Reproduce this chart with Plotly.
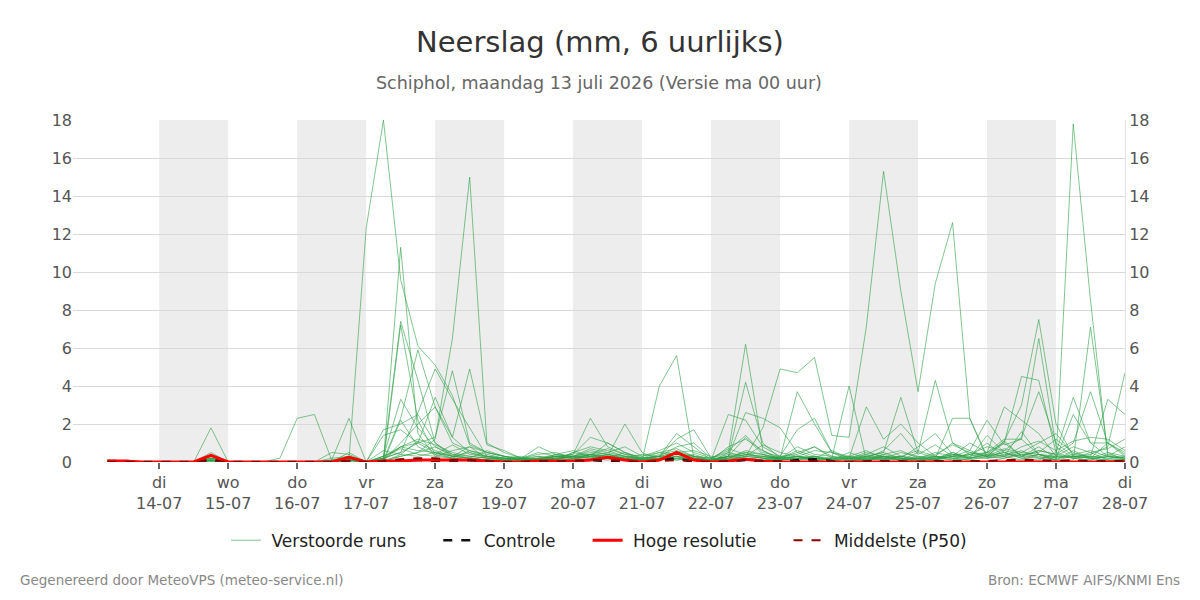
import plotly.graph_objects as go
import pandas as pd

# 6-hourly timestamps: 13-07-2026 06:00 .. 28-07-2026 00:00 (60 steps)
times = pd.date_range("2026-07-13 06:00", "2026-07-28 00:00", freq="6h")

# Each list: [13-07: 06,12,18] then per day 14..27 [00,06,12,18], then 28-07 00
m01 = [0.1,0,0, 0,0,0,0.2, 0,0,0,0, 0,0,0,0.1, 12.3,18.0,9.6,6.1, 5.1,3.5,0.9,0.5, 0.3,0.1,0,0.2, 0.1,0.4,0.2,0.1, 0,0.2,0.5,0.3, 0,0.3,1.3,0.4, 0.2,0.3,0.1,0, 0,0.3,0.1,0.2, 0,0.1,0.4,0.2, 0.5,1.0,0.3,0.2, 0.1,0.6,0.2,0.3, 0.1]
m02 = [0,0,0, 0,0,0,0.1, 0,0,0,0, 0,0,0,0.3, 0,0.1,11.3,1.5, 0.3,0.2,0.1,0.1, 0,0.1,0.2,0.3, 0.4,2.3,0.8,0.4, 0.1,0.2,0.3,0.1, 0,0.5,6.2,0.6, 0.1,0.2,0.1,0, 0,0.1,0.3,0.1, 0.2,0.1,0.3,0.6, 0.3,0.5,0.2,0.1, 0.5,3.4,1.0,0.3, 0.2]
m03 = [0,0,0, 0,0,0,0, 0,0,0,0, 0,0,0.1,0.2, 0,0.2,7.4,4.3, 1.0,0.3,0.2,0.1, 0.1,0,0.1,0.2, 0.2,0.3,0.3,2.0, 0.5,0.1,0.2,0.1, 0,0.3,4.2,1.0, 0.2,0.1,0.3,0.1, 0,0.2,0.1,0.3, 0.1,0.2,0.1,0.5, 0.3,1.1,3.0,7.5, 2.0,0.3,0.2,0.1, 0.1]
m04 = [0,0.05,0, 0,0,0,0.1, 0,0,0,0, 0,0,0,0.2, 0,0,7.2,2.2, 0.4,0.2,0.1,0.3, 0.2,0.1,0.1,0.3, 0.4,1.3,1.0,0.5, 0.2,0.3,0.2,0.1, 0.1,2.5,2.2,0.8, 0.3,0.2,0.1,0.2, 0.1,0.3,0.5,0.2, 0,0.2,0.4,0.3, 0.5,1.2,1.2,6.5, 0.8,0.2,0.5,0.1, 0]
m05 = [0,0,0, 0,0,0,0.2, 0,0,0,0, 0,0,0.1,0.3, 0,0.3,3.3,1.8, 0.8,0.3,0.2,0.1, 0,0.1,0.2,0.1, 0.3,0.5,0.4,0.2, 0.1,0.3,1.5,0.8, 0.1,0.3,2.6,2.3, 1.8,0.5,0.2,0.1, 0.2,0.1,0.3,0.1, 0.3,0.2,0.5,0.2, 0.3,1.0,4.5,4.3, 0.5,0.2,0.1,0.3, 0.2]
m06 = [0,0,0, 0,0,0,0.1, 0,0,0,0, 0,0,0,0.1, 0,0.1,2.3,5.9, 2.9,1.0,0.6,0.3, 0.2,0.1,0,0.2, 0.1,0.3,1.0,0.5, 0.1,4.0,5.6,0.2, 0,0.1,0.3,0.2, 0.1,0.3,0.2,0.1, 0.2,0.1,0.2,0.3, 0.1,0.3,0.2,0.1, 0,0.2,0.4,0.3, 0.1,17.8,8.5,0.3, 0.2]
m07 = [0,0,0, 0,0,0,0, 0,0,0,0, 0,0,0,0.2, 0,0.2,0.5,2.6, 4.9,3.3,1.8,0.3, 0.2,0.1,0.1,0.2, 0.3,0.2,0.4,0.1, 0.2,0.3,1.2,1.7, 0.2,0.1,0.3,1.8, 4.9,4.7,5.5,1.4, 1.3,7.1,15.3,9.0, 3.7,9.4,12.6,2.3, 0.3,0.5,0.2,0.4, 0.1,0.3,0.2,0.5, 0.3]
m08 = [0,0,0, 0,0,0,0.1, 0,0,0,0, 0,0,0,0.1, 0,0,0.3,0.5, 1.2,6.5,15.0,1.0, 0.5,0.2,0.1,0.3, 0.2,0.4,0.2,0.1, 0.2,0.1,0.3,0.2, 0.1,0.4,0.3,0.2, 0.2,3.7,2.0,0.5, 0.1,0.2,0.3,0.1, 0.2,0.1,0.3,0.2, 0.2,0.3,0.1,0.4, 0.1,0.1,7.1,0.5, 0.1]
m09 = [0,0,0, 0,0,0,0, 0,0,0,0, 0,0,0,0.1, 0,0.1,0.8,1.0, 1.3,4.8,1.0,0.5, 0.3,0.2,0.8,0.4, 0.3,0.2,0.1,0.3, 0.1,0.2,0.4,0.3, 0.1,0.3,0.5,0.2, 0.3,1.7,2.3,0.5, 0.2,0.1,0.3,0.2, 0.1,0.3,0.2,0.4, 0.2,0.4,0.3,0.6, 0.4,1.0,3.7,1.0, 0.3]
m10 = [0,0,0, 0,0,0,0, 0,0,0,0, 0,0,0,0.1, 0,0.1,1.0,2.0, 2.9,1.3,4.9,0.9, 0.6,0.2,0.1,0.3, 0.2,0.3,0.5,0.3, 0.1,0.2,0.3,0.1, 0.1,0.2,0.4,0.3, 0.1,0.2,0.3,0.2, 4.0,0.1,0.2,0.3, 0.2,0.3,0.1,0.2, 0.4,0.3,0.6,0.2, 0.3,0.3,0.3,3.3, 2.5]
m11 = [0,0,0, 0,0,0,0.1, 0,0,0,0, 0,0,0,0, 0,0.2,0.5,1.0, 3.4,1.3,0.5,0.3, 0.1,0.2,0.3,0.1, 0.5,0.3,0.2,0.1, 0.1,0.3,0.5,0.2, 0.1,0.3,0.2,0.1, 0.2,0.3,0.2,0.2, 0.2,2.9,1.2,2.0, 1.0,0.3,0.2,0.1, 0.3,0.2,0.5,0.4, 0.2,0.3,0.4,0.8, 4.7]
m12 = [0.1,0,0, 0,0,0,0.1, 0,0,0,0.2, 2.3,2.5,0.1,2.3, 0,1.7,2.0,2.5, 1.0,0.4,0.3,0.2, 0.1,0.2,0.1,0.3, 0.2,0.4,0.3,0.2, 0.1,0.2,0.1,0.3, 0.2,0.1,0.4,0.2, 0.1,0.2,0.3,0.1, 0.2,0.3,0.5,3.4, 0.5,0.2,0.3,0.4, 0.5,2.9,2.2,1.5, 0.3,0.2,0.1,0.4, 0.2]
m13 = [0,0,0, 0,0,0,1.8, 0,0,0,0, 0,0,0,0, 0,0.1,0.3,0.5, 0.8,0.4,0.2,0.1, 0.1,0,0.2,0.3, 0.2,0.1,0.3,0.2, 0,0.1,0.2,0.4, 0.1,0.2,0.1,0.3, 0.2,0.1,0.2,0.1, 0,0.3,0.2,0.1, 0.5,4.3,1.0,0.6, 2.2,0.9,1.2,0.4, 0.2,0.4,0.3,0.2, 0.1]
m14 = [0,0,0, 0,0,0,0.5, 0,0,0,0, 0,0,0.5,0.4, 0,0.3,0.8,0.6, 0.5,0.3,0.8,0.2, 0.1,0.2,0.1,0.2, 0.3,0.2,0.4,0.3, 0.2,0.3,0.1,0.2, 0.1,0.3,0.2,0.1, 0.2,0.3,0.1,0.2, 0.3,0.1,0.4,0.2, 0.1,0.2,2.3,2.3, 0.2,0.6,1.3,3.7, 1.0,0.3,0.2,0.1, 0.1]
m15 = [0,0,0, 0,0,0,0.3, 0,0,0,0, 0,0,0.2,0.3, 0,1.4,1.7,1.0, 0.5,0.3,0.2,0.6, 0.3,0.1,0.2,0.1, 0.5,0.8,0.6,0.3, 0.2,0.5,0.7,0.3, 0.1,0.2,0.6,0.4, 0.2,0.5,0.8,0.3, 0.1,0.4,0.2,0.5, 0.3,0.1,0.5,0.2, 0.4,1.1,0.3,0.8, 0.2,2.5,1.0,1.0, 0.5]
m16 = [0,0,0, 0,0,0,0.2, 0,0,0,0, 0,0,0,0.1, 0,0.2,0.8,1.2, 0.9,0.5,0.3,0.2, 0.2,0.1,0.3,0.2, 0.3,0.6,0.4,0.2, 0.1,0.4,0.6,0.3, 0.2,0.6,1.4,0.5, 0.3,0.4,0.8,0.2, 0.3,0.2,0.6,1.5, 0.4,0.9,0.3,1.0, 0.5,0.3,0.8,1.1, 0.6,1.1,1.3,1.2, 0.6]
m17 = [0,0,0, 0,0,0,0.1, 0,0,0,0, 0,0,0,0.5, 0,0,2.2,0.8, 0.4,0.9,0.4,0.3, 0.1,0.2,0.4,0.5, 0.2,0.4,0.7,0.4, 0.3,0.6,1.0,0.5, 0.2,0.5,0.3,0.9, 0.5,0.3,0.2,0.6, 0.2,0.5,0.3,0.2, 0.8,1.5,0.4,0.3, 1.0,0.3,1.6,0.4, 0.3,0.8,0.5,0.7, 1.2]
m18 = [0,0,0, 0,0,0,0.2, 0,0,0,0, 0,0,0,0.2, 0,0.6,0.4,1.1, 0.6,0.3,0.5,0.2, 0.2,0.3,0.1,0.4, 0.6,0.3,0.2,0.5, 0.2,0.3,0.8,1.0, 0.2,0.7,0.4,0.3, 0.2,0.6,0.3,0.1, 0.5,0.2,0.4,0.6, 0.2,0.4,0.9,0.5, 0.3,0.7,0.5,1.0, 1.5,0.4,0.6,0.3, 0.8]
m19 = [0,0,0, 0,0,0,0.1, 0,0,0,0, 0,0,0,0.1, 0,0.3,0.7,0.4, 0.3,0.6,0.8,0.5, 0.3,0.2,0.5,0.3, 0.3,0.7,0.5,0.8, 0.3,0.5,0.4,0.2, 0.1,0.8,1.2,0.6, 0.2,0.8,0.4,0.3, 0.2,0.4,0.8,0.3, 0.6,0.3,1.0,0.4, 0.8,0.6,0.4,0.5, 1.2,0.5,0.2,1.0, 0.4]
m20 = [0,0,0, 0,0,0,0.1, 0,0,0,0, 0,0,0,0.1, 0,0,0.4,0.3, 0.5,0.2,0.6,0.4, 0.2,0.1,0.2,0.4, 0.3,0.4,0.3,0.2, 0.4,0.3,0.5,0.6, 0.3,0.2,0.5,0.4, 0.1,0.3,0.6,0.5, 0.3,0.6,0.2,0.1, 0.2,0.5,0.3,0.2, 1.4,0.5,0.3,0.6, 0.4,0.2,0.3,0.2, 0.3]
members = [m01, m02, m03, m04, m05, m06, m07, m08, m09, m10,
           m11, m12, m13, m14, m15, m16, m17, m18, m19, m20]

controle = [0.05,0.05,0, 0,0,0,0.1, 0,0,0,0, 0,0,0,0.05, 0,0.05,0.1,0.1, 0.05,0.05,0.1,0.05, 0,0,0.05,0, 0.05,0.1,0.05,0, 0,0.1,0.2,0, 0,0.05,0.1,0, 0,0.1,0.15,0.05, 0,0,0.05,0, 0,0.05,0,0, 0,0.05,0,0, 0,0.05,0,0, 0]
hoge_resolutie = [0.05,0.05,0, 0,0,0,0.35, 0,0,0,0, 0,0,0,0.25, 0,0.05,0.05,0.1, 0.1,0.1,0.1,0.05, 0,0,0.05,0.05, 0.05,0.1,0.25,0.1, 0,0.1,0.5,0.1, 0,0.05,0.15,0.05, 0,0,0,0, 0,0,0,0, 0,0,0,0, 0,0,0,0, 0,0,0,0, 0]
p50 = [0,0,0, 0,0,0,0.05, 0,0,0,0, 0,0,0,0.05, 0,0.05,0.15,0.2, 0.2,0.1,0.1,0.05, 0,0,0.05,0.05, 0.05,0.1,0.1,0.05, 0,0.05,0.1,0.05, 0,0.05,0.1,0.05, 0.05,0.05,0.05,0, 0,0.05,0.05,0.05, 0,0.05,0.05,0.05, 0.05,0.1,0.1,0.1, 0.05,0.1,0.05,0.05, 0.05]

series_names = ["Verstoorde runs", "Controle", "Hoge resolutie", "Middelste (P50)"]

tick_dates = pd.date_range("2026-07-14", "2026-07-28", freq="D")
day_names = ["di", "wo", "do", "vr", "za", "zo", "ma", "di", "wo", "do", "vr", "za", "zo", "ma", "di"]
tick_text = [f"{d}<br>{t.strftime('%d-%m')}" for d, t in zip(day_names, tick_dates)]
shaded_days = ["2026-07-14", "2026-07-16", "2026-07-18", "2026-07-20",
               "2026-07-22", "2026-07-24", "2026-07-26"]

FONT = "DejaVu Sans"
NB = "\u00a0"


def legend_label(name, last=False):
    # non-breaking spaces reproduce the wider legend item spacing
    return NB + name + ("" if last else NB * 5)


fig = go.Figure()

member_color = "rgba(45,160,70,0.6)"
for k, m in enumerate(members):
    fig.add_trace(go.Scatter(x=times, y=m, mode="lines",
                             line=dict(color=member_color, width=1),
                             name=legend_label(series_names[0]), legendgroup="ens",
                             showlegend=(k == 0), hoverinfo="skip"))

fig.add_trace(go.Scatter(x=times, y=controle, mode="lines", name=legend_label(series_names[1]),
                         line=dict(color="#111111", width=2.5, dash="dash")))
fig.add_trace(go.Scatter(x=times, y=hoge_resolutie, mode="lines", name=legend_label(series_names[2]),
                         line=dict(color="#ff0000", width=3)))
fig.add_trace(go.Scatter(x=times, y=p50, mode="lines", name=legend_label(series_names[3], last=True),
                         line=dict(color="#8b0000", width=2, dash="dash")))
# invisible trace to activate the mirrored right axis
fig.add_trace(go.Scatter(x=times, y=p50, mode="lines", yaxis="y2", showlegend=False,
                         line=dict(color="rgba(0,0,0,0)", width=0), hoverinfo="skip"))

shapes = []
for d in shaded_days:
    start = pd.Timestamp(d)
    shapes.append(dict(type="rect", xref="x", yref="paper", x0=start,
                       x1=start + pd.Timedelta(days=1), y0=0, y1=1,
                       fillcolor="#ededed", line=dict(width=0), layer="below"))

fig.update_layout(
    width=1200, height=600,
    margin=dict(l=73, r=75, t=120, b=138),
    paper_bgcolor="white", plot_bgcolor="white",
    font=dict(family=FONT, size=16, color="#555555"),
    shapes=shapes,
    title=dict(text="Neerslag (mm, 6 uurlijks)", x=0.5, xanchor="center",
               y=0.93, yanchor="middle", yref="container",
               font=dict(family=FONT, size=29, color="#333333")),
    xaxis=dict(range=[pd.Timestamp("2026-07-12 18:00"), pd.Timestamp("2026-07-28 00:00")],
               tickvals=tick_dates, ticktext=tick_text, showgrid=False,
               ticks="outside", ticklen=6, tickwidth=2, tickcolor="#666666",
               showline=False, zeroline=False,
               tickfont=dict(family=FONT, size=16, color="#555555")),
    yaxis=dict(range=[0, 18], dtick=2, showgrid=True, gridcolor="#d9d9d9",
               zeroline=False, showline=False, ticks="",
               tickfont=dict(family=FONT, size=16, color="#555555")),
    yaxis2=dict(range=[0, 18], dtick=2, overlaying="y", side="right",
                showgrid=False, zeroline=False, showline=True,
                linecolor="#e3e3e3", linewidth=1, ticks="",
                tickfont=dict(family=FONT, size=16, color="#555555")),
    legend=dict(orientation="h", x=0.5, xanchor="center", y=-0.23, yanchor="middle",
                font=dict(family=FONT, size=17, color="#222222"),
                itemwidth=30, traceorder="normal"),
    showlegend=True,
    annotations=[
        dict(text="Schiphol, maandag 13 juli 2026 (Versie ma 00 uur)", xref="paper",
             yref="paper", x=0.5, y=1.0 + (120 - 83) / 342, xanchor="center",
             yanchor="middle", showarrow=False,
             font=dict(family=FONT, size=17.5, color="#666666")),
        dict(text="Gegenereerd door MeteoVPS (meteo-service.nl)", xref="paper",
             yref="paper", x=-55 / 1052, y=-(580 - 462) / 342, xanchor="left",
             yanchor="middle", showarrow=False,
             font=dict(family=FONT, size=13.5, color="#888888")),
        dict(text="Bron: ECMWF AIFS/KNMI Ens", xref="paper", yref="paper",
             x=1 + 57 / 1052, y=-(580 - 462) / 342, xanchor="right",
             yanchor="middle", showarrow=False,
             font=dict(family=FONT, size=13.5, color="#888888")),
    ],
)

fig.write_html("out.html")
